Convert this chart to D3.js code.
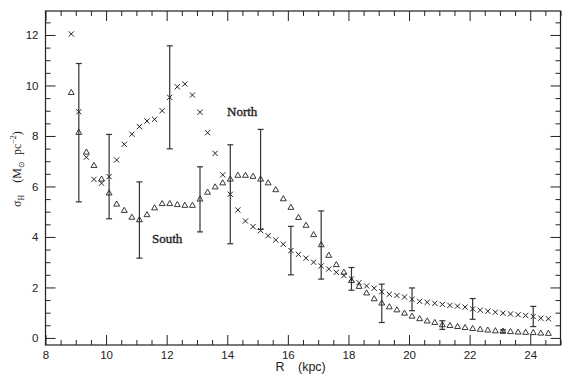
<!DOCTYPE html>
<html>
<head>
<meta charset="utf-8">
<script src="https://cdn.jsdelivr.net/npm/d3@7/dist/d3.min.js"></script>
<style>
  body { margin: 0; background: #fff; }
  .tick text { font-family: "Liberation Sans", Arial, sans-serif; font-size: 11.5px; fill: #222; }
  .tick line { stroke: #222; stroke-width: 1; }
  .lbl { font-family: "Liberation Serif", "Times New Roman", serif; font-size: 13px; fill: #222; stroke: #222; stroke-width: 0.35; }
  .axlbl { font-family: "Liberation Sans", Arial, sans-serif; font-size: 12.5px; fill: #222; }
  .ylbl { font-family: "Liberation Serif", "Times New Roman", serif; font-size: 12px; fill: #222; }
</style>
</head>
<body>
<div class="chart"></div>
<script>
let svgWidth = 570;
let svgHeight = 379;

// galactocentric radius of each ring (kpc)
let radius = [8.85, 9.1, 9.35, 9.6, 9.85, 10.1, 10.35, 10.6, 10.85, 11.1, 11.35, 11.6, 11.85,
  12.1, 12.35, 12.6, 12.85, 13.1, 13.35, 13.6, 13.85, 14.1, 14.35, 14.6, 14.85, 15.1, 15.35,
  15.6, 15.85, 16.1, 16.35, 16.6, 16.85, 17.1, 17.35, 17.6, 17.85, 18.1, 18.35, 18.6, 18.85,
  19.1, 19.35, 19.6, 19.85, 20.1, 20.35, 20.6, 20.85, 21.1, 21.35, 21.6, 21.85, 22.1, 22.35,
  22.6, 22.85, 23.1, 23.35, 23.6, 23.85, 24.1, 24.35, 24.6];

// North (crosses)
let north = [12.04, 8.96, 7.16, 6.28, 6.13, 6.39, 7.05, 7.67, 8.07, 8.37, 8.59, 8.66, 9.0,
  9.53, 9.95, 10.06, 9.62, 8.94, 8.13, 7.31, 6.46, 5.69, 5.07, 4.63, 4.41, 4.25, 4.05,
  3.88, 3.71, 3.46, 3.31, 3.16, 3.0, 2.85, 2.73, 2.6, 2.47, 2.34, 2.19, 2.06, 1.97,
  1.83, 1.73, 1.68, 1.62, 1.53, 1.45, 1.41, 1.37, 1.33, 1.29, 1.26, 1.22, 1.15, 1.1,
  1.06, 1.02, 0.98, 0.95, 0.92, 0.89, 0.85, 0.78, 0.76];

// South (triangles)
let south = [9.71, 8.13, 7.35, 6.82, 6.28, 5.73, 5.29, 5.04, 4.77, 4.67, 4.87, 5.14, 5.31,
  5.31, 5.27, 5.24, 5.24, 5.49, 5.76, 5.97, 6.13, 6.28, 6.43, 6.43, 6.39, 6.28, 6.13,
  5.86, 5.5, 5.16, 4.76, 4.45, 4.08, 3.68, 3.26, 2.89, 2.59, 2.26, 2.03, 1.77, 1.54,
  1.37, 1.22, 1.1, 0.97, 0.85, 0.75, 0.66, 0.6, 0.51, 0.48, 0.44, 0.4, 0.36, 0.33,
  0.3, 0.27, 0.26, 0.24, 0.22, 0.21, 0.2, 0.18, 0.17];

// error bars: radius, which series, half-length
let errRadius = [9.1, 10.1, 11.1, 12.1, 13.1, 14.1, 15.1, 16.1, 17.1, 18.1, 19.1, 20.1, 21.1, 22.1, 23.1, 24.1];
let errSeries = ["S", "N", "S", "N", "S", "N", "S", "N", "S", "N", "S", "N", "S", "N", "S", "N"];
let errSize = [2.74, 1.67, 1.51, 2.04, 1.29, 1.96, 1.98, 0.96, 1.35, 0.45, 0.76, 0.45, 0.17, 0.41, 0.06, 0.4];

let xTicks = [8, 10, 12, 14, 16, 18, 20, 22, 24];
let yTicks = [0, 2, 4, 6, 8, 10, 12];

let svg = d3.select(".chart")
  .append("svg")
  .attr("width", svgWidth)
  .attr("height", svgHeight);

let x = d3.scaleLinear().domain([8, 25]).range([45.5, 560.5]);
let y = d3.scaleLinear().domain([-0.28, 12.95]).range([345, 11]);

let xMinor = d3.range(8, 25.001, 0.5).filter(v => v % 2 !== 0);
let yMinor = d3.range(0, 12.951, 0.5).filter(v => v % 2 !== 0);

// axes, ticks pointing inward on all four sides
function addAxis(axis, tx, ty) {
  let g = svg.append("g")
    .attr("transform", `translate(${tx}, ${ty})`)
    .call(axis);
  g.select(".domain").remove();
  return g;
}
addAxis(d3.axisBottom(x).tickValues(xTicks).tickSize(-10).tickPadding(6), 0, 345);
addAxis(d3.axisBottom(x).tickValues(xMinor).tickSize(-5).tickFormat(""), 0, 345);
addAxis(d3.axisTop(x).tickValues(xTicks).tickSize(-10).tickFormat(""), 0, 11);
addAxis(d3.axisTop(x).tickValues(xMinor).tickSize(-5).tickFormat(""), 0, 11);
addAxis(d3.axisLeft(y).tickValues(yTicks).tickSize(-10).tickPadding(7), 45.5, 0);
addAxis(d3.axisLeft(y).tickValues(yMinor).tickSize(-5).tickFormat(""), 45.5, 0);
addAxis(d3.axisRight(y).tickValues(yTicks).tickSize(-10).tickFormat(""), 560.5, 0);
addAxis(d3.axisRight(y).tickValues(yMinor).tickSize(-5).tickFormat(""), 560.5, 0);

// frame
svg.append("rect")
  .attr("x", x(8))
  .attr("y", y(12.95))
  .attr("width", x(25) - x(8))
  .attr("height", y(-0.28) - y(12.95))
  .attr("fill", "none")
  .attr("stroke", "#222")
  .attr("stroke-width", 1.2);

// error bars
let errData = errRadius.map((r, i) => {
  let idx = radius.indexOf(r);
  let v = errSeries[i] === "N" ? north[idx] : south[idx];
  return { r: r, lo: v - errSize[i], hi: v + errSize[i] };
});
let errG = svg.append("g")
  .attr("stroke", "#333")
  .attr("stroke-width", 1.2);
errData.forEach(d => {
  errG.append("line")
    .attr("x1", x(d.r)).attr("x2", x(d.r))
    .attr("y1", y(d.lo)).attr("y2", y(d.hi));
  [d.lo, d.hi].forEach(v => {
    errG.append("line")
      .attr("x1", x(d.r) - 3).attr("x2", x(d.r) + 3)
      .attr("y1", y(v)).attr("y2", y(v));
  });
});

// North crosses
svg.append("g")
  .selectAll("path")
  .data(radius.map((r, i) => [r, north[i]]))
  .enter()
  .append("path")
  .attr("d", d => {
    let cx = x(d[0]), cy = y(d[1]), s = 2.6;
    return `M${cx - s},${cy - s}L${cx + s},${cy + s}M${cx - s},${cy + s}L${cx + s},${cy - s}`;
  })
  .attr("stroke", "#222")
  .attr("stroke-width", 1)
  .attr("fill", "none");

// South triangles
svg.append("g")
  .selectAll("path")
  .data(radius.map((r, i) => [r, south[i]]))
  .enter()
  .append("path")
  .attr("transform", d => `translate(${x(d[0])}, ${y(d[1])})`)
  .attr("d", d3.symbol(d3.symbolTriangle, 15))
  .attr("stroke", "#222")
  .attr("stroke-width", 0.9)
  .attr("fill", "none");

// series labels
svg.append("text").attr("class", "lbl")
  .attr("x", 227).attr("y", 116).text("North");
svg.append("text").attr("class", "lbl")
  .attr("x", 152).attr("y", 243).text("South");

// x axis label
svg.append("text").attr("class", "axlbl")
  .attr("x", 280).attr("y", 371)
  .attr("text-anchor", "middle")
  .text("R");
svg.append("text").attr("class", "axlbl")
  .attr("x", 298).attr("y", 371)
  .text("(kpc)");

// y axis label
let yl = svg.append("text").attr("class", "ylbl")
  .attr("transform", "translate(21, 169) rotate(-90)")
  .attr("text-anchor", "middle")
  .attr("xml:space", "preserve");
yl.append("tspan").text("σ");
yl.append("tspan").attr("font-size", "8px").attr("dy", 3).text("H");
yl.append("tspan").attr("dy", -3).text("    (M");
yl.append("tspan").attr("font-size", "8px").attr("dy", 3).text("⊙");
yl.append("tspan").attr("dy", -3).text("  pc");
yl.append("tspan").attr("font-size", "8px").attr("dy", -5).text("−2");
yl.append("tspan").attr("dy", 5).text(")");
</script>
</body>
</html>
